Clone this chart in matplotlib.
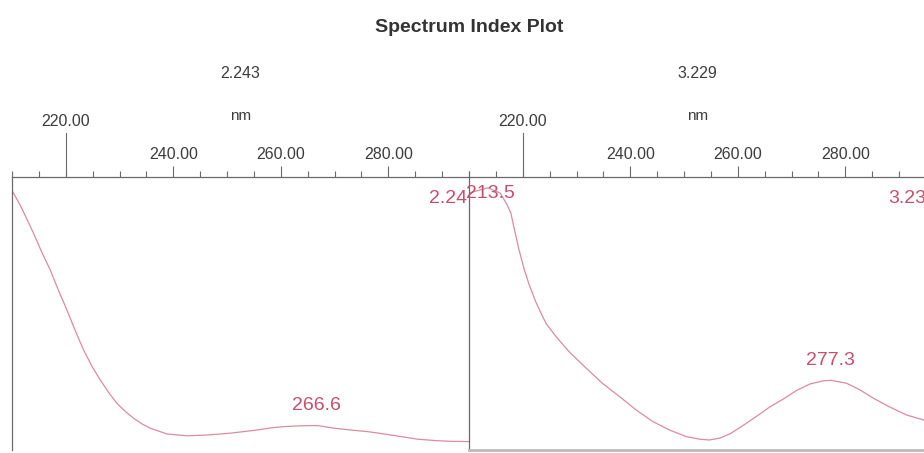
import numpy as np
import matplotlib
matplotlib.use('Agg')
import matplotlib.pyplot as plt
from matplotlib.ticker import MultipleLocator, FixedLocator

# spectrum 1 (RT 2.243 min), normalised absorbance
wl_1 = [210.1, 211.5, 212.7, 214.0, 215.5, 217.1, 218.6, 220.2, 221.7, 223.3,
        224.9, 226.4, 228.0, 229.5, 231.1, 232.6, 234.2, 235.7, 238.8, 242.6,
        246.3, 250.6, 253.1, 255.6, 258.1, 260.6, 263.7, 266.8, 269.9, 273.0,
        276.1, 279.2, 282.4, 285.5, 288.6, 291.6, 295.0]
ab_1 = [0.956, 0.905, 0.854, 0.797, 0.727, 0.658, 0.582, 0.506, 0.430, 0.354,
        0.290, 0.240, 0.191, 0.151, 0.119, 0.094, 0.072, 0.056, 0.034, 0.027,
        0.030, 0.037, 0.043, 0.049, 0.057, 0.062, 0.065, 0.066, 0.056, 0.049,
        0.043, 0.034, 0.024, 0.014, 0.009, 0.006, 0.005]

# spectrum 2 (RT 3.229 min)
wl_2 = [210.0, 213.5, 215.8, 217.1, 217.8, 218.4, 219.3, 220.3, 221.2, 222.4,
        223.7, 224.4, 226.2, 228.6, 231.8, 234.8, 238.0, 241.1, 244.2, 247.3,
        250.4, 252.9, 254.7, 256.6, 258.5, 260.9, 263.4, 265.9, 268.4, 270.9,
        273.4, 275.9, 277.3, 280.2, 282.7, 285.2, 288.3, 291.4, 294.6, 295.0]
ab_2 = [0.95, 0.97, 0.95, 0.905, 0.873, 0.816, 0.734, 0.658, 0.601, 0.537,
        0.480, 0.452, 0.404, 0.347, 0.284, 0.227, 0.176, 0.125, 0.081, 0.049,
        0.024, 0.014, 0.011, 0.018, 0.034, 0.065, 0.100, 0.136, 0.166, 0.199,
        0.224, 0.236, 0.238, 0.227, 0.202, 0.170, 0.136, 0.106, 0.087, 0.085]

rt_labels = ['2.243', '3.229']
rt_short = ['2.24', '3.23']
peaks = [[266.6], [213.5, 277.3]]

grey_txt = '#3c3c3c'
grey_ln = '#6a6a6a'
red_txt = '#c4506c'
red_ln = '#dc8c9c'
fam = ['Liberation Sans Narrow', 'Liberation Sans', 'DejaVu Sans']

W, H = 924.0, 453.0
top_px, bot_px = 177, 450
boxes = [(12, 469), (469, 926)]
data = [(wl_1, ab_1), (wl_2, ab_2)]
ylo, yhi = -0.027, 1.011
upp = (yhi - ylo) / (bot_px - top_px)   # data units per pixel


def ypx(p):
    # axes fraction of a pixel row
    return (bot_px - p) / float(bot_px - top_px)


fig = plt.figure(figsize=(9.24, 4.53), dpi=100)
fig.text(0.508, 1 - 28/H, 'Spectrum Index Plot', ha='center', va='center',
         fontsize=14, fontweight='bold', color='#333333', family=fam)

for i, (x0, x1) in enumerate(boxes):
    ax = fig.add_axes([x0/W, 1-bot_px/H, (x1-x0)/W, (bot_px-top_px)/H])
    wl, ab = data[i]
    ax.plot(wl, ab, color=red_ln, lw=0.9)
    ax.set_xlim(210, 295)
    ax.set_ylim(ylo, yhi)
    ax.set_yticks([])

    for s in ['left', 'top', 'right']:
        ax.spines[s].set_color(grey_ln)
        ax.spines[s].set_linewidth(0.9)
    ax.spines['right'].set_visible(i == 1)
    ax.spines['bottom'].set_visible(i == 1)
    ax.spines['bottom'].set_color('#bbbbbb')
    ax.spines['bottom'].set_linewidth(2)

    ax.xaxis.tick_top()
    ax.xaxis.set_major_locator(FixedLocator([240, 260, 280]))
    ax.xaxis.set_minor_locator(MultipleLocator(5))
    ax.tick_params(axis='x', which='major', direction='out', length=8,
                   width=0.8, color=grey_ln, pad=2.5, labelsize=11.5,
                   labelcolor=grey_txt, bottom=False)
    ax.tick_params(axis='x', which='minor', direction='out', length=4,
                   width=0.8, color=grey_ln, bottom=False)
    ax.set_xticklabels(['240.00', '260.00', '280.00'], family=fam)

    # first tick is drawn tall with its label raised
    ax.plot([220, 220], [yhi, yhi + 44*upp], color=grey_ln, lw=0.8,
            clip_on=False)
    ax.text(220, yhi + 55*upp, '220.00', ha='center', va='center',
            fontsize=11.5, color=grey_txt, family=fam)
    ax.text(0.5, ypx(116), 'nm', transform=ax.transAxes,
            ha='center', va='center', fontsize=11, color=grey_txt, family=fam)
    ax.text(0.5, ypx(74), rt_labels[i], transform=ax.transAxes,
            ha='center', va='center', fontsize=11.5, color=grey_txt, family=fam)

    ax.text(0.995 if i == 0 else 1.0, ypx(199), rt_short[i],
            transform=ax.transAxes, ha='right', va='center', fontsize=14,
            color=red_txt, family=fam)
    for p in peaks[i]:
        yv = np.interp(p, wl, ab)
        if p < 215:
            ax.text(p + 0.5, yhi - 17*upp, '%.1f' % p, ha='center', va='center',
                    fontsize=14, color=red_txt, family=fam)
        else:
            ax.text(p, yv + 20*upp, '%.1f' % p, ha='center', va='center',
                    fontsize=14, color=red_txt, family=fam)

fig.savefig('out.png', dpi=100)
